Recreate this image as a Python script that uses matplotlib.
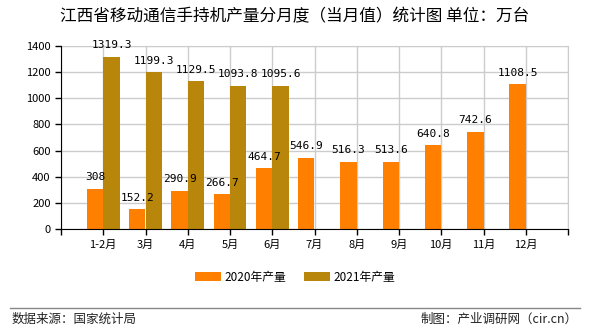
import matplotlib.pyplot as plt
import numpy as np
from matplotlib.lines import Line2D

plt.rcParams['font.family'] = ['Noto Sans CJK SC', 'DejaVu Sans']

months = ["1-2月", "3月", "4月", "5月", "6月", "7月", "8月", "9月", "10月", "11月", "12月"]
y2020 = [308, 152.2, 290.9, 266.7, 464.7, 546.9, 516.3, 513.6, 640.8, 742.6, 1108.5]
y2021 = [1319.3, 1199.3, 1129.5, 1093.8, 1095.6]
labels2020 = ["308", "152.2", "290.9", "266.7", "464.7", "546.9", "516.3", "513.6", "640.8", "742.6", "1108.5"]
labels2021 = ["1319.3", "1199.3", "1129.5", "1093.8", "1095.6"]

c2020 = "#ff8000"
c2021 = "#b8860b"

fig = plt.figure(figsize=(5.9, 3.3), dpi=100)
ax = fig.add_axes([61/590, 1-229/330, 507/590, 183/330])

x = np.arange(len(months))
w = 0.39
b1 = ax.bar(x - w/2, y2020, w, color=c2020, label="2020年产量", zorder=3)
b2 = ax.bar(x[:len(y2021)] + w/2, y2021, w, color=c2021, label="2021年产量", zorder=3)

# value labels above each bar
for xi, v, t in zip(x, y2020, labels2020):
    ax.text(xi - w/2, v + 50, t, ha="center", va="bottom", fontsize=8, family="DejaVu Sans Mono", zorder=4)
for xi, v, t in zip(x, y2021, labels2021):
    ax.text(xi + w/2, v + 50, t, ha="center", va="bottom", fontsize=8, family="DejaVu Sans Mono", zorder=4)

ax.set_xlim(-1, len(months))
ax.set_ylim(0, 1400)
ax.set_yticks(np.arange(0, 1401, 200))
ax.set_xticks(np.arange(-1, len(months) + 1))
ax.set_xticklabels([""] + months + [""])
ax.tick_params(axis="both", labelsize=8, length=4, width=1, color="black")
ax.grid(True, color="#cccccc", linewidth=1, zorder=0)
for s in ["top", "right"]:
    ax.spines[s].set_color("#cccccc")
for s in ["left", "bottom"]:
    ax.spines[s].set_color("black")
    ax.spines[s].set_zorder(5)

fig.text(0.5, 1-17/330, "江西省移动通信手持机产量分月度（当月值）统计图 单位：万台",
         ha="center", va="center", fontsize=12)

fig.legend(handles=[b1, b2], loc="center", bbox_to_anchor=(0.5, 1-277/330), ncol=2,
           frameon=False, fontsize=8.5, handlelength=2.2, handleheight=0.9, columnspacing=1.5,
           handletextpad=0.3)

fig.add_artist(Line2D([10/590, 580/590], [1-308/330, 1-308/330], color="#888888", linewidth=1))
fig.text(12/590, 1-319/330, "数据来源：国家统计局", ha="left", va="center", fontsize=9, color="#222222")
fig.text(578/590, 1-319/330, "制图：产业调研网（cir.cn）", ha="right", va="center", fontsize=9, color="#222222")

fig.savefig("out.png", dpi=100)
